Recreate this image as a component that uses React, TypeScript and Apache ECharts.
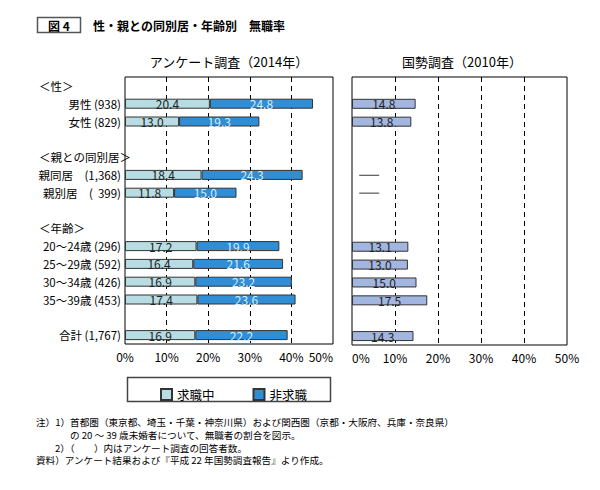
import React, { useEffect, useRef } from "react";
import * as echarts from "echarts";

const categories = [
  "＜性＞",
  "男性 (938)",
  "女性 (829)",
  "",
  "＜親との同別居＞",
  "親同居　(1,368)",
  "親別居　(  399)",
  " ",
  "＜年齢＞",
  "20～24歳 (296)",
  "25～29歳 (592)",
  "30～34歳 (426)",
  "35～39歳 (453)",
  "  ",
  "合計 (1,767)",
];
const seeking = [null, 20.4, 13.0, null, null, 18.4, 11.8, null, null, 17.2, 16.4, 16.9, 17.4, null, 16.9];
const notSeeking = [null, 24.8, 19.3, null, null, 24.3, 15.0, null, null, 19.9, 21.6, 23.2, 23.6, null, 22.2];
const census = [null, 14.8, 13.8, null, null, null, null, null, null, 13.1, 13.0, 15.0, 17.5, null, 14.3];
const censusNoData = ["親同居　(1,368)", "親別居　(  399)"];
const seriesNames = ["求職中", "非求職", "国勢調査"];
const panelTitles = ["アンケート調査（2014年）", "国勢調査（2010年）"];
const notes = [
  "注）1）首都圏（東京都、埼玉・千葉・神奈川県）および関西圏（京都・大阪府、兵庫・奈良県）",
  "の 20 ～ 39 歳未婚者について、無職者の割合を図示。",
  "2）（　　）内はアンケート調査の回答者数。",
  "資料）アンケート結果および『平成 22 年国勢調査報告』より作成。",
];

const FONT = '"Noto Sans CJK JP", "Noto Sans", sans-serif';

export default function App() {
  const ref = useRef<HTMLDivElement>(null);
  useEffect(() => {
    const chart = echarts.init(ref.current!, null, { renderer: "svg" });
    const fmt = (p: any) => (p.value == null ? "" : Number(p.value).toFixed(1));
    const yAxis = (gridIndex: number, showLabels: boolean) => ({
      type: "category",
      gridIndex,
      data: categories,
      inverse: true,
      axisTick: { show: false },
      axisLine: { show: false },
      splitLine: { show: false },
      axisLabel: {
        show: showLabels,
        color: "#000",
        fontSize: 11.5,
        fontFamily: FONT,
        margin: 4,
        align: "right",
        formatter: (v: string) => (v.startsWith("＜") ? `{h|${v}}` : v),
        rich: { h: { width: 82, align: "left", fontSize: 11.5, fontFamily: FONT, color: "#000" } },
      },
    });
    const xAxis = (gridIndex: number, alignMin: string, alignMax: string) => ({
      type: "value",
      gridIndex,
      min: 0,
      max: 50,
      interval: 10,
      axisLine: { show: false },
      axisTick: { show: false },
      splitLine: {
        show: true,
        showMinLine: false,
        showMaxLine: false,
        lineStyle: { color: "#000", type: [5, 4], width: 1 },
      },
      axisLabel: {
        formatter: "{value}%",
        color: "#000",
        fontSize: 12,
        fontFamily: FONT,
        margin: 6,
        alignMinLabel: alignMin,
        alignMaxLabel: alignMax,
      },
    });
    const noteStyle = (text: string) => ({
      text,
      font: `9.6px ${FONT}`,
      fill: "#000",
      verticalAlign: "middle",
      lineHeight: 10,
    });
    const option: any = {
      animation: false,
      backgroundColor: "#fff",
      textStyle: { fontFamily: FONT },
      grid: [
        { left: 125, right: 267, top: 77, bottom: 146, show: true, borderColor: "#000", borderWidth: 1 },
        { left: 352, right: 33, top: 77, bottom: 145, show: true, borderColor: "#000", borderWidth: 1 },
      ],
      xAxis: [xAxis(0, "center", "right"), xAxis(1, "left", "center")],
      yAxis: [yAxis(0, true), yAxis(1, false)],
      legend: {
        data: [seriesNames[0], seriesNames[1]],
        left: 155,
        top: 383,
        icon: "rect",
        itemWidth: 11,
        itemHeight: 11,
        itemGap: 38,
        textStyle: { fontSize: 12.5, fontFamily: FONT, color: "#000" },
      },
      series: [
        {
          name: seriesNames[0],
          type: "bar",
          stack: "a",
          xAxisIndex: 0,
          yAxisIndex: 0,
          barWidth: 10,
          data: seeking,
          itemStyle: { color: "#b7dde3", borderColor: "#333", borderWidth: 1 },
          label: { show: true, position: "inside", formatter: fmt, color: "#222", fontSize: 12, fontFamily: FONT },
        },
        {
          name: seriesNames[1],
          type: "bar",
          stack: "a",
          xAxisIndex: 0,
          yAxisIndex: 0,
          barWidth: 10,
          data: notSeeking,
          itemStyle: { color: "#2f8ed6", borderColor: "#333", borderWidth: 1 },
          label: { show: true, position: "inside", formatter: fmt, color: "#d8ecfa", fontSize: 12, fontFamily: FONT },
        },
        {
          name: seriesNames[2],
          type: "bar",
          xAxisIndex: 1,
          yAxisIndex: 1,
          barWidth: 10,
          data: census,
          itemStyle: { color: "#a3b6e0", borderColor: "#333", borderWidth: 1 },
          label: { show: true, position: "inside", formatter: fmt, color: "#222", fontSize: 12, fontFamily: FONT },
        },
        {
          name: "no data",
          type: "scatter",
          xAxisIndex: 1,
          yAxisIndex: 1,
          symbol: "rect",
          symbolSize: [20, 1],
          itemStyle: { color: "#000" },
          data: censusNoData.map((c) => [4, c]),
          silent: true,
        },
      ],
      graphic: [
        { type: "rect", shape: { x: 37.5, y: 17.5, width: 43, height: 15 }, style: { fill: "#fff", stroke: "#555", lineWidth: 1.5 } },
        { type: "text", x: 59, y: 25, style: { text: "図 4", font: `bold 12px ${FONT}`, fill: "#000", align: "center", verticalAlign: "middle" } },
        { type: "text", x: 93, y: 25, style: { text: "性・親との同別居・年齢別　無職率", font: `bold 12px ${FONT}`, fill: "#000", verticalAlign: "middle" } },
        { type: "text", x: 229, y: 61, style: { text: panelTitles[0], font: `13px ${FONT}`, fill: "#000", align: "center", verticalAlign: "middle" } },
        { type: "text", x: 462, y: 61, style: { text: panelTitles[1], font: `13px ${FONT}`, fill: "#000", align: "center", verticalAlign: "middle" } },
        { type: "rect", shape: { x: 127.5, y: 377.5, width: 203, height: 24 }, style: { fill: "none", stroke: "#444", lineWidth: 1.5 } },
        { type: "text", x: 36, y: 422, style: noteStyle(notes[0]) },
        { type: "text", x: 70, y: 435, style: noteStyle(notes[1]) },
        { type: "text", x: 55, y: 447.5, style: noteStyle(notes[2]) },
        { type: "text", x: 36, y: 460, style: noteStyle(notes[3]) },
      ],
    };
    chart.setOption(option);
    return () => chart.dispose();
  }, []);
  return <div ref={ref} style={{ position: "fixed", left: 0, top: 0, width: 600, height: 490 }} />;
}
